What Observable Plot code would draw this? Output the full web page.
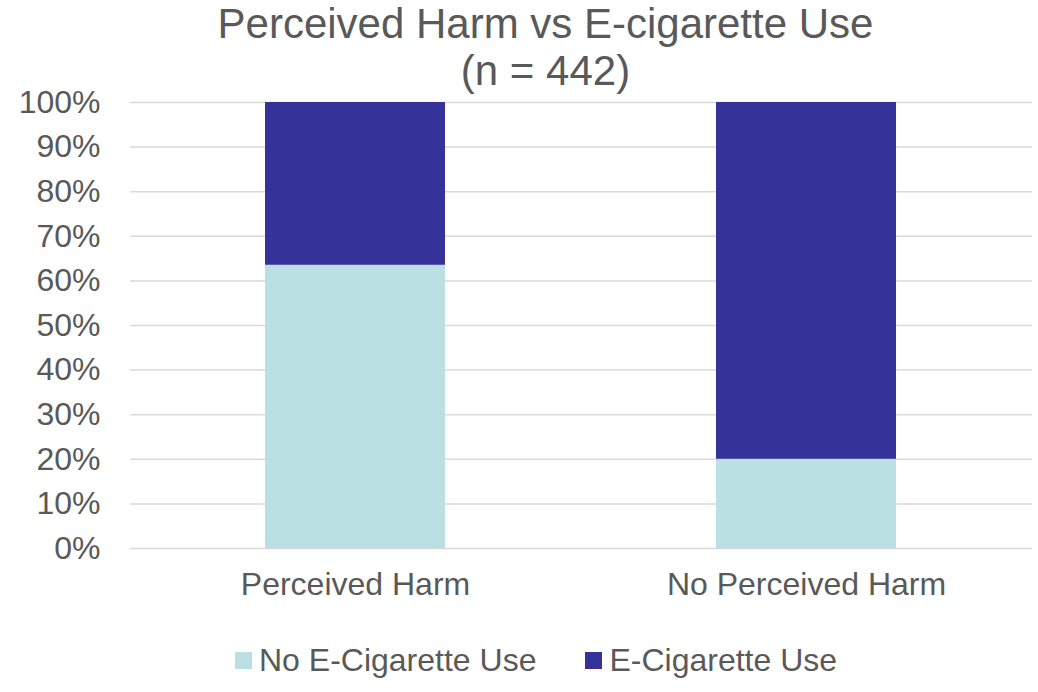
<!DOCTYPE html>
<html>
<head>
<meta charset="utf-8">
<script src="https://cdn.jsdelivr.net/npm/d3@7"></script>
<script src="https://cdn.jsdelivr.net/npm/@observablehq/plot@0.6"></script>
<style>
  html, body { margin: 0; padding: 0; background: #fff; }
  body { width: 1038px; height: 692px; position: relative; overflow: hidden;
         font-family: "Liberation Sans", Arial, sans-serif; color: #595959; }
  .title { position: absolute; left: 0; width: 985px; padding-left: 53px; z-index: 2;
           text-align: center; font-size: 42px; line-height: 40px; height: 40px; }
  #t1 { top: 4px; }
  #t2 { top: 51px; }
  #chart { position: absolute; top: 80px; left: 0; z-index: 1; }
  #chart svg { display: block; background: transparent; }
  #legend { position: absolute; top: 643px; left: 235px; display: flex; align-items: center;
            font-size: 32px; line-height: 34px; }
  .item { display: flex; align-items: center; }
  .sw { width: 17px; height: 17px; margin-right: 7px; }
</style>
</head>
<body>
<div class="title" id="t1">Perceived Harm vs E-cigarette Use</div>
<div class="title" id="t2">(n = 442)</div>
<div id="chart"></div>
<div id="legend"></div>
<script>
const groups = ["Perceived Harm", "No Perceived Harm"];
const series = ["No E-Cigarette Use", "E-Cigarette Use"];
const colors = ["#BAE0E3", "#35339A"];
const noUseShare = [0.635, 0.20];
const useShare = [0.365, 0.80];
const yTicks = [0, 0.1, 0.2, 0.3, 0.4, 0.5, 0.6, 0.7, 0.8, 0.9, 1.0];

const data = [];
groups.forEach((g, i) => {
  data.push({group: g, series: series[0], value: noUseShare[i]});
  data.push({group: g, series: series[1], value: useShare[i]});
});

const chart = Plot.plot({
  width: 1038,
  height: 530,
  marginTop: 22,
  marginBottom: 62,
  marginLeft: 130,
  marginRight: 6,
  style: {fontFamily: "'Liberation Sans', Arial, sans-serif", fontSize: "32px", color: "#595959", background: "transparent"},
  x: {domain: groups, paddingInner: 0.6, paddingOuter: 0.3, label: null},
  y: {domain: [0, 1], label: null},
  color: {domain: series, range: colors},
  marks: [
    Plot.ruleY(yTicks, {stroke: "#d9d9d9", strokeWidth: 1.5}),
    Plot.barY(data, Plot.stackY({x: "group", y: "value", fill: "series", order: series})),
    Plot.axisY(yTicks, {tickSize: 0, tickPadding: 30, tickFormat: d => Math.round(d * 100) + "%", fontSize: 32}),
    Plot.axisX({tickSize: 0, tickPadding: 24, fontSize: 32})
  ]
});
document.getElementById("chart").appendChild(chart);

const legend = document.getElementById("legend");
series.forEach((s, i) => {
  const item = document.createElement("div");
  item.className = "item";
  if (i > 0) item.style.marginLeft = "49px";
  const sw = document.createElement("div");
  sw.className = "sw";
  sw.style.background = colors[i];
  const label = document.createElement("span");
  label.textContent = s;
  item.appendChild(sw);
  item.appendChild(label);
  legend.appendChild(item);
});
</script>
</body>
</html>
